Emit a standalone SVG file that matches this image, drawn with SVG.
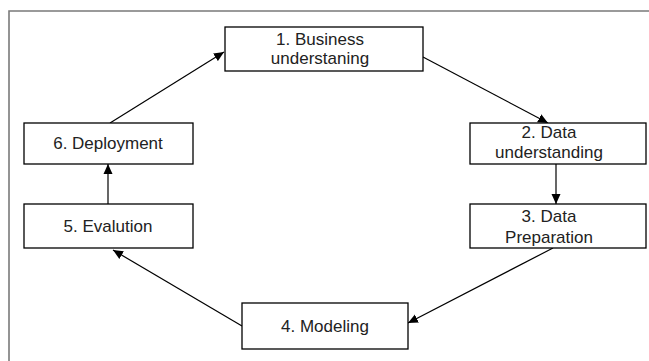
<svg xmlns="http://www.w3.org/2000/svg" width="649" height="361" viewBox="0 0 649 361">
<style>
.box{fill:#fff;stroke:#000;stroke-width:1.3}
.lbl{font-family:"Liberation Sans",Arial,sans-serif;font-size:17px;fill:#222;text-anchor:middle}
.con{stroke:#000;stroke-width:1.2;fill:none;marker-end:url(#ah)}
</style>
<defs>
<marker id="ah" viewBox="0 0 10 10" refX="10" refY="5" markerWidth="10" markerHeight="10" markerUnits="userSpaceOnUse" orient="auto">
<path d="M0,0.5 L10,5 L0,9.5 z" fill="#000"/>
</marker>
</defs>
<rect width="649" height="361" fill="#fff"/>
<path d="M9,361 V11 H649" fill="none" stroke="#7a7a7a" stroke-width="1.6"/>
<g id="connectors">
<line class="con" x1="110" y1="123" x2="224" y2="52"/>
<line class="con" x1="423" y1="57" x2="548" y2="123"/>
<line class="con" x1="556" y1="164" x2="556" y2="204"/>
<line class="con" x1="553" y1="248" x2="408" y2="323"/>
<line class="con" x1="242" y1="326" x2="113" y2="250"/>
<line class="con" x1="108" y1="204" x2="108" y2="164"/>
</g>
<g id="node1">
<rect class="box" x="225" y="27" width="198" height="44"/>
<text class="lbl" x="320" y="45">1. Business</text>
<text class="lbl" x="320" y="64">understaning</text>
</g>
<g id="node2">
<rect class="box" x="470" y="123" width="176" height="41"/>
<text class="lbl" x="549" y="138">2. Data</text>
<text class="lbl" x="549" y="158">understanding</text>
</g>
<g id="node3">
<rect class="box" x="470" y="204" width="176" height="44"/>
<text class="lbl" x="549" y="222">3. Data</text>
<text class="lbl" x="549" y="243">Preparation</text>
</g>
<g id="node4">
<rect class="box" x="242" y="303" width="166" height="46"/>
<text class="lbl" x="325" y="332">4. Modeling</text>
</g>
<g id="node5">
<rect class="box" x="24" y="204" width="169" height="44"/>
<text class="lbl" x="108" y="232">5. Evalution</text>
</g>
<g id="node6">
<rect class="box" x="24" y="123" width="169" height="41"/>
<text class="lbl" x="108" y="149">6. Deployment</text>
</g>
</svg>
